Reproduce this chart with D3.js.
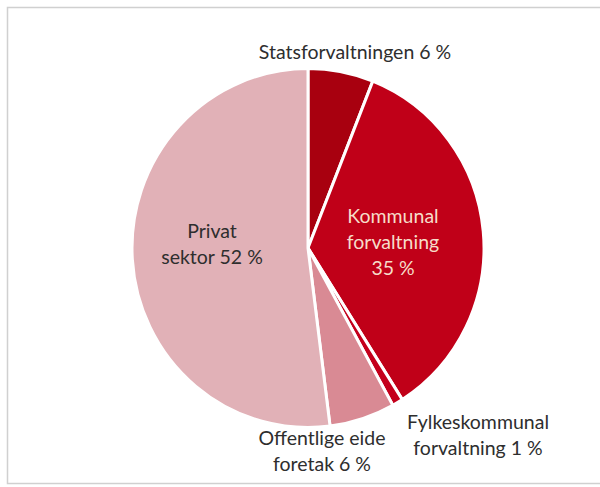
<!DOCTYPE html>
<html>
<head>
<meta charset="utf-8">
<script src="https://cdn.jsdelivr.net/npm/d3@7"></script>
<style>
  html, body { margin: 0; padding: 0; background: #ffffff; }
  svg { display: block; }
  text { font-family: Lato, "Open Sans", sans-serif; }
</style>
</head>
<body>
<svg id="chart" width="600" height="487"></svg>
<script>
// Sector shares (percent), clockwise from 12 o'clock
const sectors = ["Statsforvaltningen", "Kommunal forvaltning", "Fylkeskommunal forvaltning", "Offentlige eide foretak", "Privat sektor"];
const shares = [6, 35, 1, 6, 52];
const colors = ["#a8000f", "#c00018", "#c4001c", "#d98a94", "#e1b1b7"];
// Label text lines for each sector
const labelLines = [
  ["Statsforvaltningen 6 %"],
  ["Kommunal", "forvaltning", "35 %"],
  ["Fylkeskommunal", "forvaltning 1 %"],
  ["Offentlige eide", "foretak 6 %"],
  ["Privat", "sektor 52 %"]
];
const labelColors = ["#2e2e2e", "#f6dcc9", "#2e2e2e", "#2e2e2e", "#2e2e2e"];

const svg = d3.select("#chart");
const W = 600, H = 487;

// outer frame
svg.append("rect")
  .attr("x", 7.5).attr("y", 7.5)
  .attr("width", W).attr("height", 476)
  .attr("fill", "#ffffff")
  .attr("stroke", "#d0d0d0").attr("stroke-width", 1.5);

const cx = 308, cy = 248, r = 176;

const pie = d3.pie().sort(null).value(d => d)(shares);
const arc = d3.arc().innerRadius(0).outerRadius(r);

const g = svg.append("g")
  .attr("transform", `translate(${cx},${cy}) scale(1,1.02)`);

g.selectAll("path")
  .data(pie)
  .join("path")
  .attr("d", arc)
  .attr("fill", (d, i) => colors[i])
  .attr("stroke", "#ffffff")
  .attr("stroke-width", 3)
  .attr("stroke-linejoin", "round");

// label anchor positions (centre of each text block) and line spacing
const labelPos = [
  [355, 52],
  [393, 242],
  [478, 435],
  [322, 451],
  [212, 244]
];
const lineH = 26;

labelLines.forEach((lines, i) => {
  const [lx, ly] = labelPos[i];
  const t = svg.append("text")
    .attr("text-anchor", "middle")
    .attr("font-size", 19.5)
    .attr("fill", labelColors[i]);
  const y0 = ly - (lines.length - 1) * lineH / 2;
  lines.forEach((s, k) => {
    t.append("tspan")
      .attr("x", lx)
      .attr("y", y0 + k * lineH)
      .attr("dy", "0.35em")
      .text(s);
  });
});
</script>
</body>
</html>
